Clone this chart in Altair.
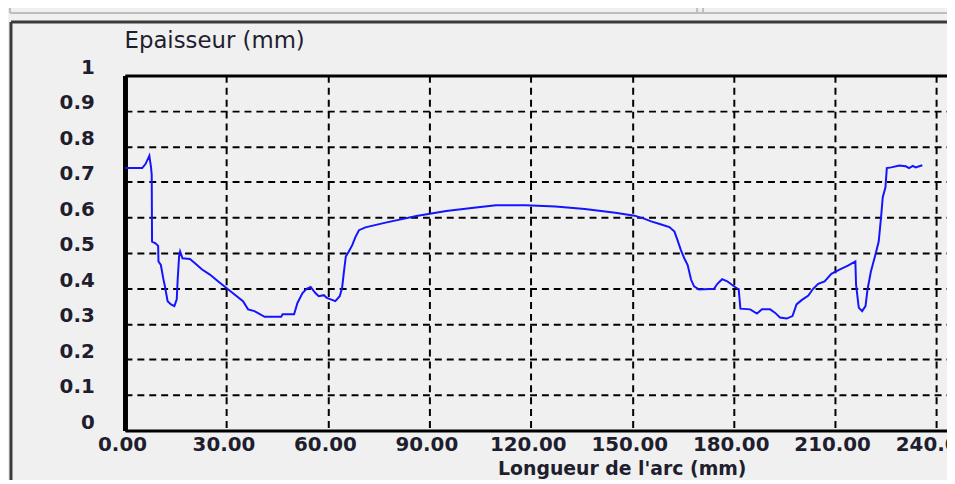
import altair as alt
import pandas as pd

# Arc length (mm) and thickness (mm)
arc_mm = [0.0, 5.1, 6.1, 7.2, 7.7, 7.9, 8.0, 9.0, 9.8, 9.9, 10.6, 11.3, 11.8, 12.6, 13.6,
          14.6, 15.3, 15.6, 16.0, 16.3, 17.0, 19.2, 20.7, 22.7, 25.1, 27.5, 30.0, 32.4,
          34.9, 36.4, 38.3, 41.3, 46.2, 46.6, 50.0, 51.0, 52.5, 53.7, 54.9, 56.3, 57.3,
          58.8, 59.7, 62.2, 63.5, 64.2, 64.7, 65.3, 66.2, 67.2, 68.2, 69.2, 71.1, 77.4,
          86.2, 95.0, 103.8, 109.7, 118.5, 127.3, 136.0, 145.0, 150.7, 153.7, 155.6,
          158.6, 161.0, 162.5, 163.4, 164.4, 165.4, 166.4, 167.4, 168.3, 169.8, 174.2,
          175.2, 176.6, 178.1, 180.1, 181.5, 182.0, 184.9, 186.9, 188.4, 190.8, 192.3,
          193.7, 195.7, 197.4, 198.6, 200.1, 202.1, 203.5, 205.0, 206.9, 208.9, 211.3,
          213.8, 216.0, 216.2, 217.0, 218.0, 219.0, 219.6, 220.6, 221.9, 222.9, 223.6,
          224.1, 224.9, 225.3, 226.6, 229.0, 230.9, 231.9, 233.0, 233.8, 235.8]
thickness_mm = [0.739, 0.739, 0.751, 0.774, 0.741, 0.720, 0.532, 0.527, 0.520, 0.476, 0.466,
                0.429, 0.406, 0.364, 0.355, 0.350, 0.369, 0.429, 0.490, 0.504, 0.485, 0.483,
                0.471, 0.454, 0.439, 0.420, 0.401, 0.383, 0.364, 0.341, 0.336, 0.320, 0.320,
                0.327, 0.327, 0.359, 0.387, 0.399, 0.404, 0.387, 0.378, 0.381, 0.373, 0.364,
                0.378, 0.401, 0.443, 0.490, 0.504, 0.522, 0.546, 0.564, 0.572, 0.586, 0.604,
                0.618, 0.628, 0.634, 0.634, 0.631, 0.624, 0.613, 0.605, 0.596, 0.589, 0.580,
                0.573, 0.560, 0.536, 0.508, 0.485, 0.466, 0.425, 0.406, 0.397, 0.399, 0.413,
                0.426, 0.420, 0.406, 0.397, 0.343, 0.341, 0.329, 0.341, 0.341, 0.331, 0.318,
                0.315, 0.322, 0.355, 0.367, 0.380, 0.399, 0.413, 0.420, 0.441, 0.453, 0.464,
                0.476, 0.411, 0.346, 0.336, 0.350, 0.397, 0.448, 0.494, 0.532, 0.601, 0.657,
                0.685, 0.739, 0.741, 0.746, 0.744, 0.739, 0.745, 0.741, 0.747]

x_ticks = [0, 30, 60, 90, 120, 150, 180, 210, 240]
y_ticks = [0, 0.1, 0.2, 0.3, 0.4, 0.5, 0.6, 0.7, 0.8, 0.9, 1.0]

df = pd.DataFrame({"arc": arc_mm, "ep": thickness_mm})

W, H = 829, 358
xscale = alt.Scale(domain=[0, 243.1], nice=False, zero=False)
yscale = alt.Scale(domain=[0, 1], nice=False)

label_font = "DejaVu Sans"
txt = "#1e1e2e"

x_axis = alt.Axis(
    values=x_ticks, format=".2f", title="Longueur de l'arc (mm)",
    orient="bottom", ticks=False, labelPadding=4, labelFlush=False, labelOverlap=False,
    labelFont=label_font, labelFontSize=20, labelFontWeight="bold", labelColor=txt,
    labelOffset=-3,
    domainColor="black", domainWidth=3,
    grid=True, gridColor="black", gridDash=[7, 5], gridWidth=2, gridOpacity=1,
    titleFont=label_font, titleFontSize=19, titleFontWeight="bold", titleColor=txt,
    titleX=501, titleY=44, titleBaseline="alphabetic", titleAlign="center",
)
y_axis = alt.Axis(
    values=y_ticks, format=".1~f", title="Epaisseur (mm)",
    ticks=False, labelPadding=31, labelOverlap=False, labelFlush=False,
    labelFont=label_font, labelFontSize=20, labelFontWeight="bold", labelColor=txt,
    labelOffset=-8,
    domainColor="black", domainWidth=5,
    grid=True, gridColor="black", gridDash=[7, 5], gridWidth=2, gridOpacity=1,
    titleFont=label_font, titleFontSize=23, titleFontWeight="normal", titleColor=txt,
    titleAngle=0, titleAlign="left", titleBaseline="middle", titleX=-1, titleY=-35,
)

base = alt.Chart(df)
line = base.mark_line(color="#1414ff", strokeWidth=2).encode(
    x=alt.X("arc:Q", scale=xscale, axis=x_axis),
    y=alt.Y("ep:Q", scale=yscale, axis=y_axis),
)
top = base.mark_line(opacity=0).encode(
    x=alt.X("arc:Q", scale=xscale,
            axis=alt.Axis(orient="top", labels=False, ticks=False, grid=False,
                          domainColor="black", domainWidth=3, title=None)),
    y=alt.Y("ep:Q", scale=yscale, axis=None),
)

one = pd.DataFrame({"k": [0]})
frame_v = alt.Chart(one).mark_rule(color="#3a3a3a", strokeWidth=3).encode(
    x=alt.value(-115), y=alt.value(-54), y2=alt.value(430))
frame_h = alt.Chart(one).mark_rule(color="#3a3a3a", strokeWidth=3).encode(
    x=alt.value(-115), x2=alt.value(840), y=alt.value(-54))
panel_h = alt.Chart(one).mark_rule(color="#bdbdbd", strokeWidth=2).encode(
    x=alt.value(-116), x2=alt.value(840), y=alt.value(-63))
panel_v1 = alt.Chart(one).mark_rule(color="#bdbdbd", strokeWidth=2).encode(
    x=alt.value(577), y=alt.value(-70), y2=alt.value(-63))
panel_v2 = alt.Chart(one).mark_rule(color="#bdbdbd", strokeWidth=2).encode(
    x=alt.value(583), y=alt.value(-70), y2=alt.value(-63))
panel_l = alt.Chart(one).mark_rule(color="#bdbdbd", strokeWidth=2).encode(
    x=alt.value(-116), y=alt.value(-70), y2=alt.value(-63))

chart = alt.layer(
    panel_h, panel_v1, panel_v2, panel_l, frame_v, frame_h, line, top
).resolve_axis(x="independent", y="independent").properties(
    width=W, height=H,
    autosize=alt.AutoSizeParams(type="none"),
    padding={"left": 118, "top": 66, "right": 0, "bottom": 48},
    background="#f0f0f0",
).configure_view(stroke=None)

chart.save("out.html", embed_options={"renderer": "svg", "actions": False})
